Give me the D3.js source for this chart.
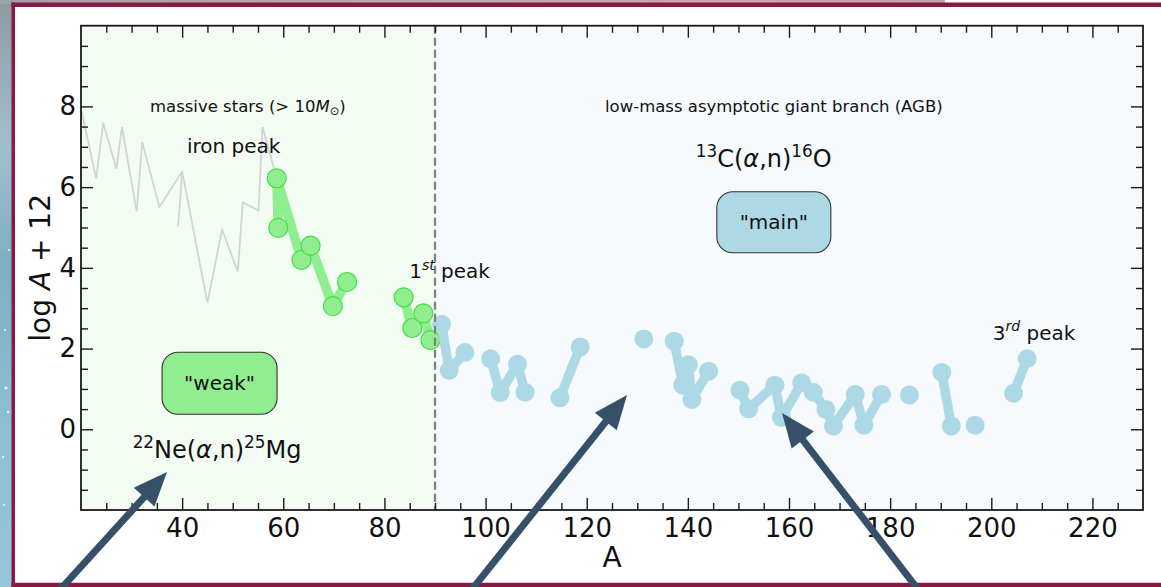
<!DOCTYPE html>
<html>
<head>
<meta charset="utf-8">
<script src="https://cdn.jsdelivr.net/npm/d3@7"></script>
<style>
  html, body { margin: 0; padding: 0; background: #fff; overflow: hidden; }
  svg { display: block; font-family: "DejaVu Sans", sans-serif; }
</style>
</head>
<body>
<svg id="chart" width="1161" height="587"></svg>
<script>
// Solar iron-group abundance curve (grey reference line)
const ironA   = [20.0, 23.0, 24.4, 27.0, 28.1, 31.0, 32.1, 35.5, 40.0, 39.2, 40.0, 45.0, 47.9, 51.0, 52.0, 55.1, 55.9, 58.7];
const ironLog = [7.95, 6.22, 7.59, 6.45, 7.49, 5.40, 7.11, 5.51, 6.39, 5.03, 6.39, 3.13, 4.95, 3.91, 5.62, 5.42, 7.49, 6.22];

// Weak s-process component (massive stars); null breaks the line
const weakA   = [59.0, 58.7, 63.6, 65.4, 69.8, 72.6, null, 83.8, 85.5, 87.7, 89.1];
const weakLog = [4.99, 6.22, 4.20, 4.55, 3.05, 3.65, null, 3.27, 2.51, 2.87, 2.21];

// Main s-process component (low-mass AGB stars); null breaks the line
const mainA   = [91.3, 92.8, 95.9, null, 101.0, 102.9, 106.3, 107.8, null, 114.7, 118.7, null,
                 131.3, null, 137.3, 139.0, 140.1, 140.8, 144.1, null,
                 150.3, 152.0, 157.2, 158.5, 162.5, 164.8, 167.3, 168.8, 173.1, 174.8, 178.3, null,
                 183.8, null, 190.2, 192.1, null, 196.8, null, 204.4, 207.1];
const mainLog = [2.60, 1.46, 1.90, null, 1.75, 0.91, 1.61, 0.92, null, 0.78, 2.04, null,
                 2.24, null, 2.18, 1.09, 1.60, 0.74, 1.44, null,
                 0.97, 0.51, 1.09, 0.29, 1.15, 0.92, 0.49, 0.08, 0.86, 0.10, 0.86, null,
                 0.85, null, 1.41, 0.08, null, 0.10, null, 0.89, 1.75];

// Axis ticks
const xTicks = [40, 60, 80, 100, 120, 140, 160, 180, 200, 220];
const yTicks = [0, 2, 4, 6, 8];
const xMinor = d3.range(25, 230, 5).filter(v => v % 20 !== 0);
const yMinor = d3.range(-1.5, 10, 0.5).filter(v => v % 2 !== 0);

const xDomain = [20, 230];
const yDomain = [-2, 10];
const splitA = 90;   // boundary between weak and main components

const svg = d3.select("#chart");
const W = 1161, H = 587;
const plot = { left: 81, right: 1143, top: 25.7, bottom: 510 };

const x = d3.scaleLinear().domain(xDomain).range([plot.left, plot.right]);
const y = d3.scaleLinear().domain(yDomain).range([plot.bottom, plot.top]);

// ---------- slide backdrop ----------
const defs = svg.append("defs");
const neb = defs.append("linearGradient").attr("id", "neb").attr("x1", 0).attr("y1", 0).attr("x2", 0).attr("y2", 1);
[["0%", "#8f9aa2"], ["25%", "#9fbfcc"], ["45%", "#7eaec4"], ["70%", "#8dbdd3"], ["100%", "#97c6dc"]]
  .forEach(([o, c]) => neb.append("stop").attr("offset", o).attr("stop-color", c));
const nebTop = defs.append("linearGradient").attr("id", "nebTop").attr("x1", 0).attr("y1", 0).attr("x2", 1).attr("y2", 0);
[["0%", "#9aa3a8"], ["50%", "#b3b0b4"], ["80%", "#c9a9b3"], ["100%", "#b9a7ae"]]
  .forEach(([o, c]) => nebTop.append("stop").attr("offset", o).attr("stop-color", c));

svg.append("rect").attr("x", 0).attr("y", 0).attr("width", W).attr("height", H).attr("fill", "#fff");
svg.append("rect").attr("x", 0).attr("y", 0).attr("width", 14).attr("height", H).attr("fill", "url(#neb)");
svg.append("rect").attr("x", 0).attr("y", 0).attr("width", 945).attr("height", 4).attr("fill", "url(#nebTop)");
[[6, 388, 1.6], [8, 412, 1.3], [3, 457, 1.2], [5, 330, 1], [9, 250, 0.9], [4, 505, 1]]
  .forEach(([cx, cy, r]) => svg.append("circle").attr("cx", cx).attr("cy", cy).attr("r", r).attr("fill", "#f4f8ff").attr("opacity", 0.9));

// frame of the slide
const frame = "#8a1943";
svg.append("rect").attr("x", 11.5).attr("y", 2.5).attr("width", 3.5).attr("height", 584.5).attr("fill", frame);
svg.append("rect").attr("x", 11.5).attr("y", 2.5).attr("width", W - 11.5).attr("height", 4.5).attr("fill", frame);
svg.append("rect").attr("x", 11.5).attr("y", 582.5).attr("width", W - 11.5).attr("height", 4.5).attr("fill", frame);
svg.append("rect").attr("x", 15).attr("y", 7).attr("width", W - 15).attr("height", 575.5).attr("fill", "#fff");

// ---------- plot area ----------
defs.append("clipPath").attr("id", "clip")
  .append("rect").attr("x", plot.left).attr("y", plot.top)
  .attr("width", plot.right - plot.left).attr("height", plot.bottom - plot.top);

const g = svg.append("g").attr("clip-path", "url(#clip)");

// shaded regions for the two components
g.append("rect").attr("x", x(xDomain[0])).attr("y", plot.top)
  .attr("width", x(splitA) - x(xDomain[0])).attr("height", plot.bottom - plot.top)
  .attr("fill", "#f3fcf3");
g.append("rect").attr("x", x(splitA)).attr("y", plot.top)
  .attr("width", x(xDomain[1]) - x(splitA)).attr("height", plot.bottom - plot.top)
  .attr("fill", "#f6fafc");

const toPts = (as, vs) => as.map((a, i) => ({ a, v: vs[i] }));
const line = d3.line().defined(d => d.a != null && d.v != null).x(d => x(d.a)).y(d => y(d.v));

// grey solar curve
g.append("path").datum(toPts(ironA, ironLog))
  .attr("d", line).attr("fill", "none").attr("stroke", "#d3d3d3")
  .attr("stroke-width", 1.8).attr("stroke-linejoin", "miter");

// weak component
const weak = toPts(weakA, weakLog);
g.append("path").datum(weak).attr("d", line).attr("fill", "none")
  .attr("stroke", "#90ee90").attr("stroke-width", 9.5).attr("stroke-linejoin", "round");
g.selectAll("circle.weak").data(weak.filter(d => d.a != null)).enter().append("circle")
  .attr("class", "weak").attr("cx", d => x(d.a)).attr("cy", d => y(d.v)).attr("r", 9.5)
  .attr("fill", "#90ee90").attr("stroke", "#45df45").attr("stroke-width", 1.2);

// main component
const main = toPts(mainA, mainLog);
g.append("path").datum(main).attr("d", line).attr("fill", "none")
  .attr("stroke", "#add8e6").attr("stroke-width", 9.5).attr("stroke-linejoin", "round");
g.selectAll("circle.main").data(main.filter(d => d.a != null)).enter().append("circle")
  .attr("class", "main").attr("cx", d => x(d.a)).attr("cy", d => y(d.v)).attr("r", 9.5)
  .attr("fill", "#add8e6");

// boundary between regimes
g.append("line").attr("x1", x(splitA)).attr("x2", x(splitA))
  .attr("y1", plot.top).attr("y2", plot.bottom)
  .attr("stroke", "#808080").attr("stroke-width", 2.3).attr("stroke-dasharray", "8,4");

// ---------- axes ----------
const axisColor = "#1a1a1a";
function styleAxis(sel) {
  sel.select(".domain").remove();
  sel.selectAll(".tick line").attr("stroke", axisColor).attr("stroke-width", 1.4);
  sel.selectAll(".tick text").attr("fill", "#111").attr("font-size", 26)
     .attr("font-family", "DejaVu Sans, sans-serif");
}
const axes = [
  [d3.axisBottom(x).tickValues(xTicks).tickSize(-12).tickPadding(9).tickFormat(d3.format("d")), 0, plot.bottom],
  [d3.axisBottom(x).tickValues(xMinor).tickSize(-7).tickFormat(""), 0, plot.bottom],
  [d3.axisTop(x).tickValues(xTicks).tickSize(-12).tickFormat(""), 0, plot.top],
  [d3.axisTop(x).tickValues(xMinor).tickSize(-7).tickFormat(""), 0, plot.top],
  [d3.axisLeft(y).tickValues(yTicks).tickSize(-12).tickPadding(5).tickFormat(d3.format("d")), plot.left, 0],
  [d3.axisLeft(y).tickValues(yMinor).tickSize(-7).tickFormat(""), plot.left, 0],
  [d3.axisRight(y).tickValues(yTicks).tickSize(-12).tickFormat(""), plot.right, 0],
  [d3.axisRight(y).tickValues(yMinor).tickSize(-7).tickFormat(""), plot.right, 0]
];
axes.forEach(([ax, tx, ty]) => {
  svg.append("g").attr("transform", `translate(${tx},${ty})`).call(ax).call(styleAxis);
});
svg.append("rect").attr("x", plot.left).attr("y", plot.top)
  .attr("width", plot.right - plot.left).attr("height", plot.bottom - plot.top)
  .attr("fill", "none").attr("stroke", axisColor).attr("stroke-width", 1.8);

// axis titles
svg.append("text").attr("x", (plot.left + plot.right) / 2).attr("y", 567)
  .attr("text-anchor", "middle").attr("font-size", 28).attr("fill", "#111").text("A");
const yl = svg.append("text").attr("transform", `translate(50,${(plot.top + plot.bottom) / 2}) rotate(-90)`)
  .attr("text-anchor", "middle").attr("font-size", 28).attr("fill", "#111");
yl.append("tspan").text("log ");
yl.append("tspan").attr("font-style", "italic").text("A");
yl.append("tspan").text(" + 12");

// ---------- annotations ----------
function richText(px, py, parts, size, anchor) {
  const t = svg.append("text").attr("x", px).attr("y", py).attr("font-size", size)
    .attr("text-anchor", anchor || "middle").attr("fill", "#111");
  let shift = 0;
  parts.forEach(p => {
    const target = p.sup ? -size * 0.42 : p.sub ? size * 0.2 : 0;
    const s = t.append("tspan").attr("dy", target - shift).text(p.t);
    shift = target;
    if (p.sup || p.sub) s.attr("font-size", size * 0.7);
    if (p.it) s.attr("font-style", "italic");
  });
  return t;
}

richText(x(53.0), y(7.86), [{ t: "massive stars (> 10" }, { t: "M", it: true }, { t: "⊙", sub: true }, { t: ")" }], 16.5);
richText(x(50.2), y(6.85), [{ t: "iron peak" }], 20);
richText(x(157.0), y(7.86), [{ t: "low-mass asymptotic giant branch (AGB)" }], 16.5);
richText(x(155.0), y(6.50), [{ t: "13", sup: true }, { t: "C(" }, { t: "α", it: true }, { t: ",n)" }, { t: "16", sup: true }, { t: "O" }], 24);
richText(x(46.9), y(-0.72), [{ t: "22", sup: true }, { t: "Ne(" }, { t: "α", it: true }, { t: ",n)" }, { t: "25", sup: true }, { t: "Mg" }], 24);
richText(x(84.9), y(3.75), [{ t: "1" }, { t: "st", sup: true, it: true }, { t: " peak" }], 20, "start");
richText(x(200.3), y(2.22), [{ t: "3" }, { t: "rd", sup: true, it: true }, { t: " peak" }], 20, "start");

// rounded label boxes
function labelBox(ca, cv, w, h, fill, label) {
  const cx = x(ca), cy = y(cv);
  svg.append("rect").attr("x", cx - w / 2).attr("y", cy - h / 2).attr("width", w).attr("height", h)
    .attr("rx", 16).attr("ry", 16).attr("fill", fill).attr("stroke", "#333").attr("stroke-width", 1.1);
  svg.append("text").attr("x", cx).attr("y", cy).attr("dy", "0.35em").attr("text-anchor", "middle")
    .attr("font-size", 20).attr("fill", "#111").text(label);
}
labelBox(47.4, 1.14, 115, 62, "#90ee90", "\"weak\"");
labelBox(157.0, 5.13, 114, 61, "#add8e6", "\"main\"");

// ---------- pointer arrows over the slide ----------
const arrowColor = "#37506a";
const arrows = [[58, 592, 167, 472], [470, 592, 627, 395], [920, 592, 782, 413]];
arrows.forEach(([x0, y0, x1, y1]) => {
  const dx = x1 - x0, dy = y1 - y0, len = Math.hypot(dx, dy);
  const ux = dx / len, uy = dy / len, nx = -uy, ny = ux;
  const L = 34, hw = 14;
  const bx = x1 - ux * L, by = y1 - uy * L;
  svg.append("line").attr("x1", x0).attr("y1", y0).attr("x2", bx + ux * 2).attr("y2", by + uy * 2)
    .attr("stroke", arrowColor).attr("stroke-width", 7);
  svg.append("path")
    .attr("d", `M${x1},${y1}L${bx + nx * hw},${by + ny * hw}L${bx - nx * hw},${by - ny * hw}Z`)
    .attr("fill", arrowColor);
});
</script>
</body>
</html>
